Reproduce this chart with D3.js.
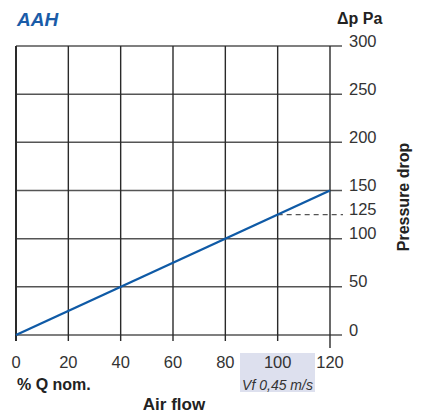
<!DOCTYPE html>
<html><head><meta charset="utf-8">
<script src="https://cdn.jsdelivr.net/npm/d3@7"></script>
<style>body{margin:0;background:#fff}text{font-family:"Liberation Sans",Arial,sans-serif}</style>
</head><body><svg id="c" width="424" height="414"></svg>
<script>
const xTicks = [0, 20, 40, 60, 80, 100, 120];
const yTicks = [0, 50, 100, 150, 200, 250, 300];
const yLabelTicks = [0, 50, 100, 125, 150, 200, 250, 300];
const lineX = [0, 120];
const lineY = [0, 150];
const refFlow = 100, refDrop = 125;

const svg = d3.select("#c");
const x = d3.scaleLinear().domain([0, 120]).range([16, 330]);
const y = d3.scaleLinear().domain([0, 300]).range([335, 46]);

// shaded box behind 100
svg.append("rect").attr("x", 240).attr("y", 353).attr("width", 75).attr("height", 39).attr("fill", "#dde0ee");

// horizontal grid
svg.append("g").selectAll("line").data(yTicks).join("line")
  .attr("x1", x(0)).attr("x2", 342).attr("y1", d => y(d)).attr("y2", d => y(d))
  .attr("stroke", "#555").attr("stroke-width", 1.5);
// vertical grid
svg.append("g").selectAll("line").data(xTicks).join("line")
  .attr("x1", d => x(d)).attr("x2", d => x(d)).attr("y1", y(300)).attr("y2", d => d === 120 ? 348 : 341)
  .attr("stroke", "#2a2a2a").attr("stroke-width", d => d === 0 ? 2 : 1.4);

// dashed reference
svg.append("line").attr("x1", x(refFlow)).attr("x2", 343).attr("y1", y(refDrop)).attr("y2", y(refDrop))
  .attr("stroke", "#555").attr("stroke-width", 1.2).attr("stroke-dasharray", "5,4");

// data line
svg.append("path").datum(lineX.map((d, i) => [d, lineY[i]]))
  .attr("d", d3.line().x(d => x(d[0])).y(d => y(d[1])))
  .attr("fill", "none").attr("stroke", "#0f5aa6").attr("stroke-width", 2.4);

// x tick labels
svg.append("g").selectAll("text").data(xTicks).join("text")
  .attr("x", d => x(d)).attr("y", 368).attr("text-anchor", "middle")
  .attr("font-size", 16.5).attr("fill", "#333").text(d => d);
// y tick labels
svg.append("g").selectAll("text").data(yLabelTicks).join("text")
  .attr("x", 349).attr("y", d => y(d) + 0.5).attr("font-size", 16.5).attr("fill", "#333").text(d => d);

svg.append("text").attr("x", 17).attr("y", 390).attr("font-size", 16).attr("fill", "#222").attr("font-weight", "bold").text("% Q nom.");
svg.append("text").attr("x", 277.5).attr("y", 390).attr("text-anchor", "middle").attr("font-size", 14).attr("font-style", "italic").attr("fill", "#333").text("Vf 0,45 m/s");
svg.append("text").attr("x", 174).attr("y", 410).attr("text-anchor", "middle").attr("font-size", 17).attr("font-weight", "bold").attr("fill", "#222").text("Air flow");
svg.append("text").attr("x", 17).attr("y", 26).attr("font-size", 19).attr("font-weight", "bold").attr("font-style", "italic").attr("fill", "#1a5ca8").text("AAH");
svg.append("text").attr("x", 337).attr("y", 24).attr("font-size", 16).attr("font-weight", "bold").attr("fill", "#222").text("Δp Pa");
svg.append("text").attr("transform", "translate(409,197) rotate(-90)").attr("text-anchor", "middle").attr("font-size", 16).attr("font-weight", "bold").attr("fill", "#222").text("Pressure drop");
</script></body></html>
